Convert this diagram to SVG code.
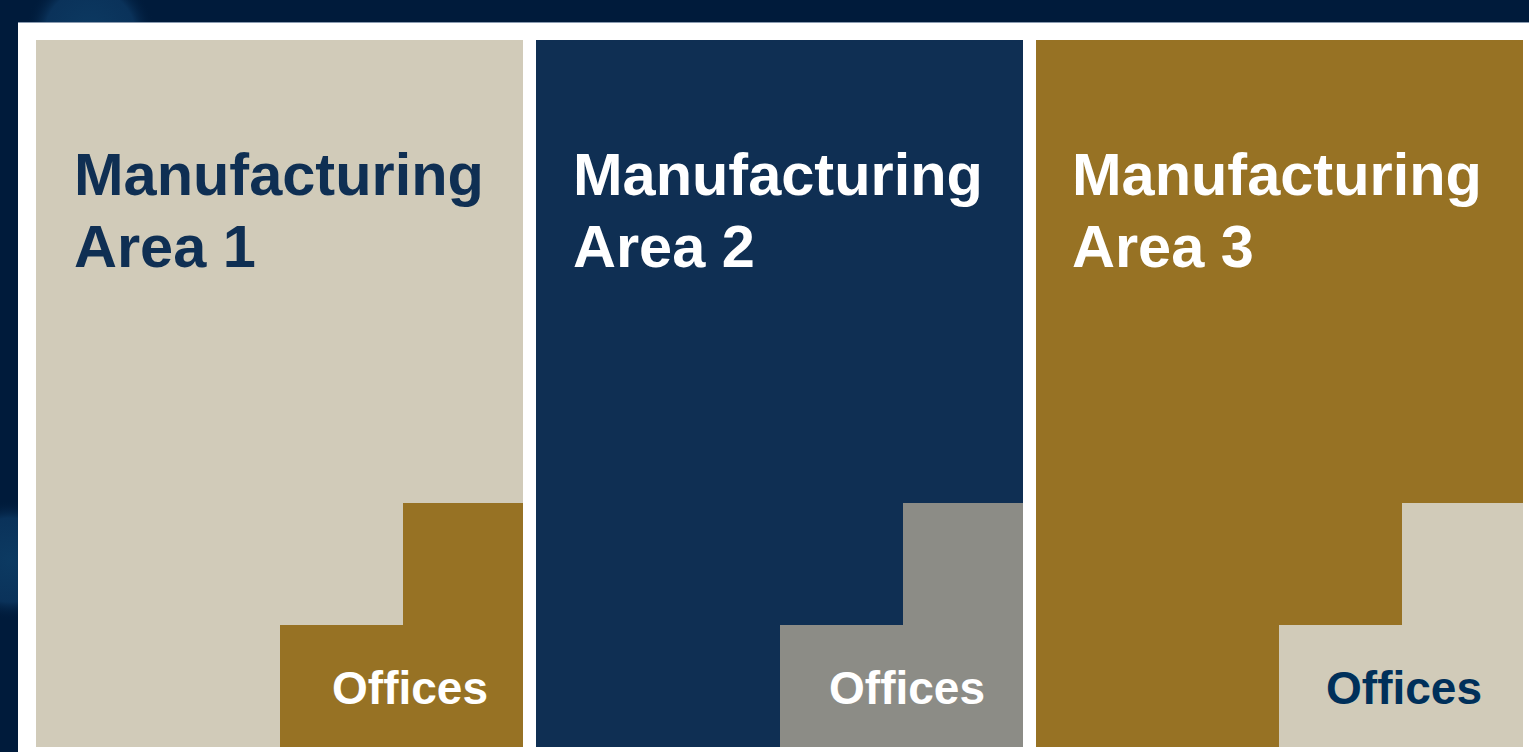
<svg xmlns="http://www.w3.org/2000/svg" width="1529" height="752" viewBox="0 0 1529 752">
  <defs>
    <radialGradient id="glow" cx="0.5" cy="0.5" r="0.5">
      <stop offset="0" stop-color="#0c3a62"/>
      <stop offset="0.7" stop-color="#0a325a"/>
      <stop offset="1" stop-color="#001b3b" stop-opacity="0"/>
    </radialGradient>
    <style>
      .title { font-family: "Liberation Sans", Arial, sans-serif; font-weight: bold; font-size: 59.5px; }
      .off { font-family: "Liberation Sans", Arial, sans-serif; font-weight: bold; font-size: 46px; text-anchor: end; }
      .beige { fill: #d1cbb9; }
      .navy { fill: #0f2f53; }
      .gold { fill: #977224; }
      .gray { fill: #8c8c86; }
    </style>
  </defs>
  <g id="background">
    <rect x="0" y="0" width="1529" height="752" fill="#001b3b"/>
    <circle cx="90" cy="35" r="65" fill="url(#glow)"/>
    <circle cx="10" cy="560" r="60" fill="url(#glow)"/>
    <rect x="18" y="22" width="1511" height="730" fill="#ffffff"/>
    <line x1="18" y1="22.5" x2="1529" y2="22.5" stroke="#8a9bb0" stroke-width="1"/>
  </g>
  <g id="area1">
    <rect class="beige" x="36" y="40" width="487" height="707"/>
    <path class="gold" d="M403 503 H523 V747 H280 V625 H403 Z"/>
    <text class="title" x="74" y="195" fill="#0f2f53">Manufacturing</text>
    <text class="title" x="74" y="267" fill="#0f2f53">Area 1</text>
    <text class="off" x="488" y="704" fill="#ffffff">Offices</text>
  </g>
  <g id="area2">
    <rect class="navy" x="536" y="40" width="487" height="707"/>
    <path class="gray" d="M903 503 H1023 V747 H780 V625 H903 Z"/>
    <text class="title" x="573" y="195" fill="#ffffff">Manufacturing</text>
    <text class="title" x="573" y="267" fill="#ffffff">Area 2</text>
    <text class="off" x="985" y="704" fill="#ffffff">Offices</text>
  </g>
  <g id="area3">
    <rect class="gold" x="1036" y="40" width="487" height="707"/>
    <path class="beige" d="M1402 503 H1523 V747 H1279 V625 H1402 Z"/>
    <text class="title" x="1072" y="195" fill="#ffffff">Manufacturing</text>
    <text class="title" x="1072" y="267" fill="#ffffff">Area 3</text>
    <text class="off" x="1482" y="704" fill="#00305a">Offices</text>
  </g>
  <g id="connectors"/>
</svg>
